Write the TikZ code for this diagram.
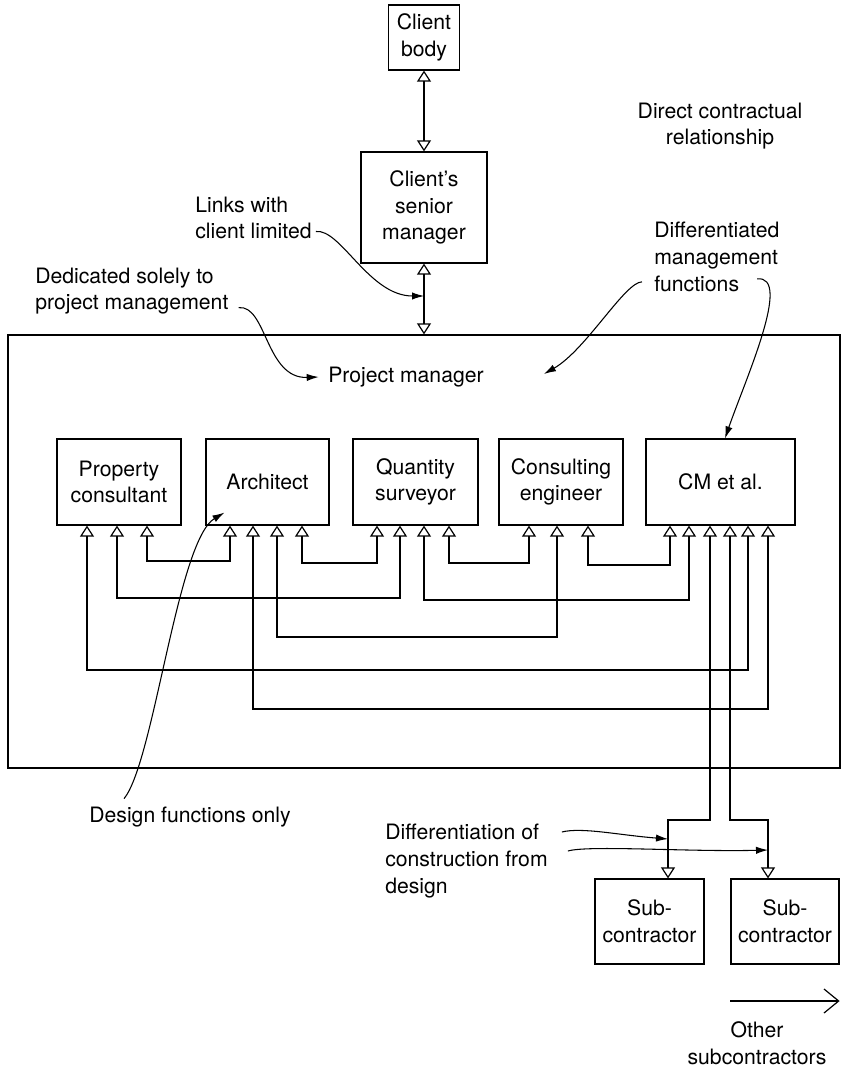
\documentclass[tikz,border=0pt]{standalone}
\usepackage{fontspec}
\setmainfont{TeX Gyre Heros}
\usetikzlibrary{arrows.meta,calc}

\begin{document}
\begin{tikzpicture}[x=0.75pt,y=0.75pt,yscale=-1,xscale=1,
  every node/.style={font=\fontsize{15.9}{20}\selectfont},
  box/.style={draw, line width=0.9pt, align=center, inner sep=0pt},
  lbl/.style={align=left, inner sep=0pt},
  link/.style={line width=0.9pt, {Triangle[open,length=8.3pt,width=10.5pt]}-{Triangle[open,length=8.3pt,width=10.5pt]}},
  note/.style={line width=0.8pt, -{Latex[length=9pt,width=5.5pt]}}]
\useasboundingbox (0,0) rectangle (841,1069);
%Shape: Client boxes
\node[box, minimum width=53.25pt, minimum height=48.75pt] (body) at (424,37.5) {Client\\body};
\node[box, minimum width=94.5pt, minimum height=83.25pt] (senior) at (424,207.5) {Client’s\\senior\\manager};
%Shape: Project manager frame
\node[box, minimum width=624pt, minimum height=324.75pt] (pmbox) at (424,551.5) {};
\node[lbl, anchor=west] (pm) at (328,377) {Project manager};
%Shape: Consultant boxes
\node[box, minimum width=93pt, minimum height=64.5pt] (prop) at (119,482) {Property\\consultant};
\node[box, minimum width=92.25pt, minimum height=64.5pt] (arch) at (267.5,482) {Architect};
\node[box, minimum width=93.75pt, minimum height=64.5pt] (qs) at (415.5,482) {Quantity\\surveyor};
\node[box, minimum width=93pt, minimum height=64.5pt] (ce) at (561,482) {Consulting\\engineer};
\node[box, minimum width=111.75pt, minimum height=64.5pt] (cm) at (720.5,482) {CM et al.};
%Shape: Subcontractor boxes
\node[box, minimum width=81.75pt, minimum height=63.75pt] (sub1) at (649.5,921.5) {Sub-\\contractor};
\node[box, minimum width=81pt, minimum height=63.75pt] (sub2) at (785,921.5) {Sub-\\contractor};
%Text labels
\node[lbl, align=center] (direct) at (720,126) {Direct contractual\\relationship};
\node[lbl, anchor=west] (links) at (195,218) {Links with\\client limited};
\node[lbl, anchor=west] (dedic) at (35,291) {Dedicated solely to\\project management};
\node[lbl, anchor=west] (diffm) at (654,257) {Differentiated\\management\\functions};
\node[lbl] (design) at (190,817) {Design functions only};
\node[lbl, anchor=west] (diffc) at (385,861) {Differentiation of\\construction from\\design};
\node[lbl, align=center] (other) at (757,1043) {Other\\subcontractors};
%Straight Lines: contractual links
\draw[link] (body.south) -- (senior.north);
\draw[link] (senior.south) -- (pmbox.north);
\draw[link] (147,0 |- prop.south) -- (147,561) -- (230,561) -- (230,0 |- arch.south);
\draw[link] (302,0 |- arch.south) -- (302,563) -- (377,563) -- (377,0 |- qs.south);
\draw[link] (449,0 |- qs.south) -- (449,563) -- (529,563) -- (529,0 |- ce.south);
\draw[link] (588,0 |- ce.south) -- (588,565) -- (670,565) -- (670,0 |- cm.south);
\draw[link] (117,0 |- prop.south) -- (117,598) -- (400,598) -- (400,0 |- qs.south);
\draw[link] (424,0 |- qs.south) -- (424,600) -- (689,600) -- (689,0 |- cm.south);
\draw[link] (277,0 |- arch.south) -- (277,637) -- (557,637) -- (557,0 |- ce.south);
\draw[link] (87,0 |- prop.south) -- (87,670) -- (748,670) -- (748,0 |- cm.south);
\draw[link] (253,0 |- arch.south) -- (253,709) -- (768,709) -- (768,0 |- cm.south);
\draw[link] (710,0 |- cm.south) -- (710,820) -- (668,820) -- (668,0 |- sub1.north);
\draw[link] (730,0 |- cm.south) -- (730,820) -- (768,820) -- (768,0 |- sub2.north);
\draw[line width=0.9pt, -{Straight Barb[length=11pt,width=18pt]}] (sub2.west |- 0,1001) -- (sub2.east |- 0,1001);
%Curve Lines: notes
\draw[note] ($(links.south east)+(4,-8)$) .. controls +(25,-3) and +(-55,0) .. (senior.south |- 0,296);
\draw[note] ($(dedic.south east)+(10,-7)$) .. controls +(28,-3) and +(-53,2) .. ([xshift=-7pt]pm.west);
\draw[note] ($(diffm.south west)+(-12,-10)$) .. controls +(-17,0) and +(42,-24) .. ($(pm.east)+(60,-3)$);
\draw[note] ($(diffm.south west)+(103,-13)$) .. controls +(36,-4) and +(20,-58) .. (725,0 |- cm.north);
\draw[note] ($(design.north west)+(35,-8)$) .. controls +(30,-37) and +(-47,28) .. ($(arch.south west)+(19,-13)$);
\draw[note] ($(diffc.east)+(14,-29)$) .. controls +(20,-5) and +(-50,-4) .. (668,839);
\draw[note] ($(diffc.east)+(20,-10)$) .. controls +(20,-6) and +(-78,2) .. (768,850);
\end{tikzpicture}
\end{document}
